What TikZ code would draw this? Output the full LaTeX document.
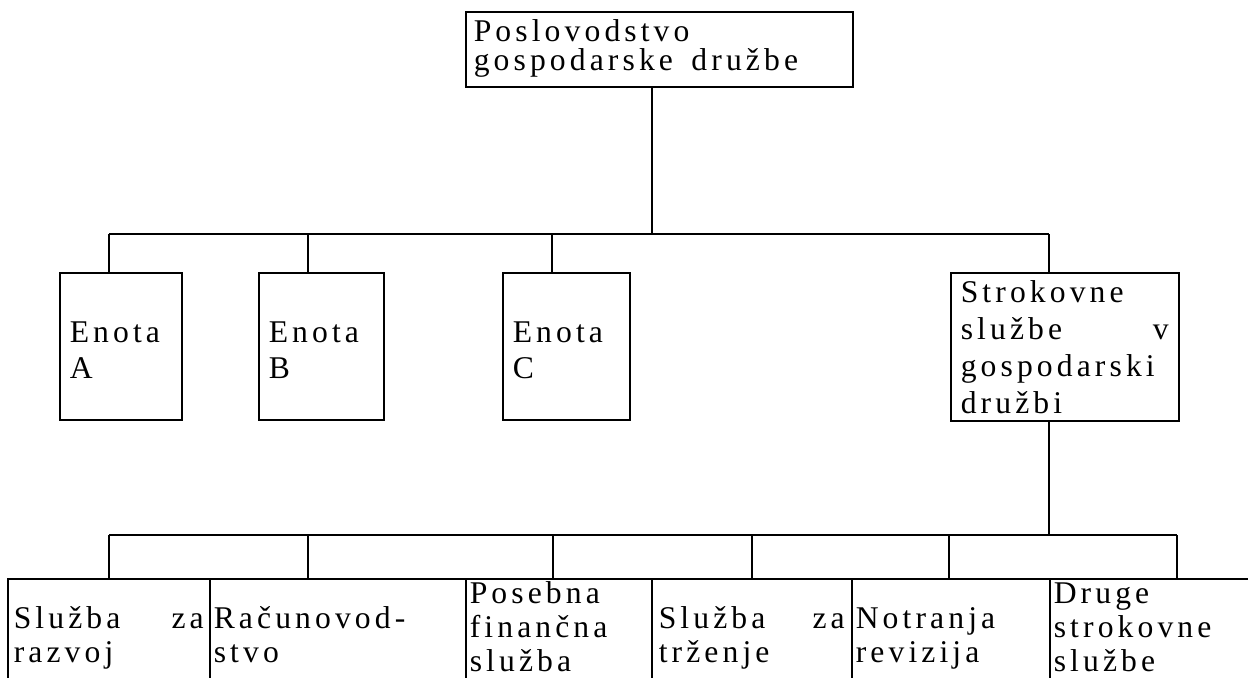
\documentclass[tikz,border=0pt]{standalone}
\usepackage{fontspec}
\setmainfont{Liberation Serif}[LetterSpace=13]

\tikzset{
  orgbox/.style={draw, line width=0.9pt, anchor=north west, align=left, inner ysep=0pt},
  unitbox/.style={orgbox, inner xsep=0.2cm, text height=1.4cm, text depth=1.54cm,
    font=\fontsize{18}{20.5}\selectfont},
  svcbox/.style={orgbox, inner xsep=0.08cm, text depth=3cm,
    font=\fontsize{18}{19.4}\selectfont},
  link/.style={line width=0.8pt}
}

\begin{document}
\begin{tikzpicture}[x=0.02cm, y=-0.02cm]
    \useasboundingbox (0,0) rectangle (1248,677);
    \clip (0,0) rectangle (1248,677);
    % Management
        \node[orgbox, inner xsep=0.16cm, text width=7.42cm, text height=0.6cm, text depth=0.9cm,
              font=\fontsize{18}{16.5}\selectfont] (mgmt) at (465,11) {Poslovodstvo\\gospodarske\hspace{0.25em} družbe};
    % Units
        \node[unitbox, text width=2.04cm] (unitA) at (59,272) {Enota\\A};
        \node[unitbox, text width=2.1cm] (unitB) at (258,272) {Enota\\B};
        \node[unitbox, text width=2.14cm] (unitC) at (502,272) {Enota\\C};
        \node[unitbox, text width=4.16cm, text height=0.6cm, text depth=2.36cm,
              font=\fontsize{18}{21}\selectfont] (staff) at (950,272)
            {Strokovne\\službe\hfill v\\gospodarski\\družbi};
    % Services
        \node[svcbox, inner xsep=0.12cm, text width=3.8cm, text height=1cm] (dev) at (7,578) {Služba\hfill za\\razvoj};
        \node[svcbox, text width=4.96cm, text height=1cm] (acct) at (209,578) {Računovod-\\stvo};
        \node[svcbox, text width=3.56cm, text height=0.5cm] (fin) at (465,578) {Posebna\\finančna\\služba};
        \node[svcbox, inner xsep=0.14cm, text width=3.72cm, text height=1cm] (mkt) at (651,578) {Služba\hfill za\\trženje};
        \node[svcbox, text width=3.8cm, text height=1cm] (audit) at (851,578) {Notranja\\revizija};
        \node[svcbox, text width=4.26cm, text height=0.5cm] (other) at (1049,578) {Druge\\strokovne\\službe};
    % Upper links
        \coordinate (hub) at (652,234);
        \draw[link] (mgmt.south -| hub) -- (hub);
        \draw[link] (109,234) -- (1049,234);
        \foreach \n/\x in {unitA/109, unitB/308, unitC/552, staff/1049}
            \draw[link] (\x,234) -- (\x,0 |- \n.north);
    % Lower links
        \coordinate (subhub) at (1049,535);
        \draw[link] (subhub |- staff.south) -- (subhub);
        \draw[link] (109,535) -- (1177,535);
        \foreach \n/\x in {dev/109, acct/308, fin/553, mkt/752, audit/949, other/1177}
            \draw[link] (\x,535) -- (\x,0 |- \n.north);
\end{tikzpicture}
\end{document}
